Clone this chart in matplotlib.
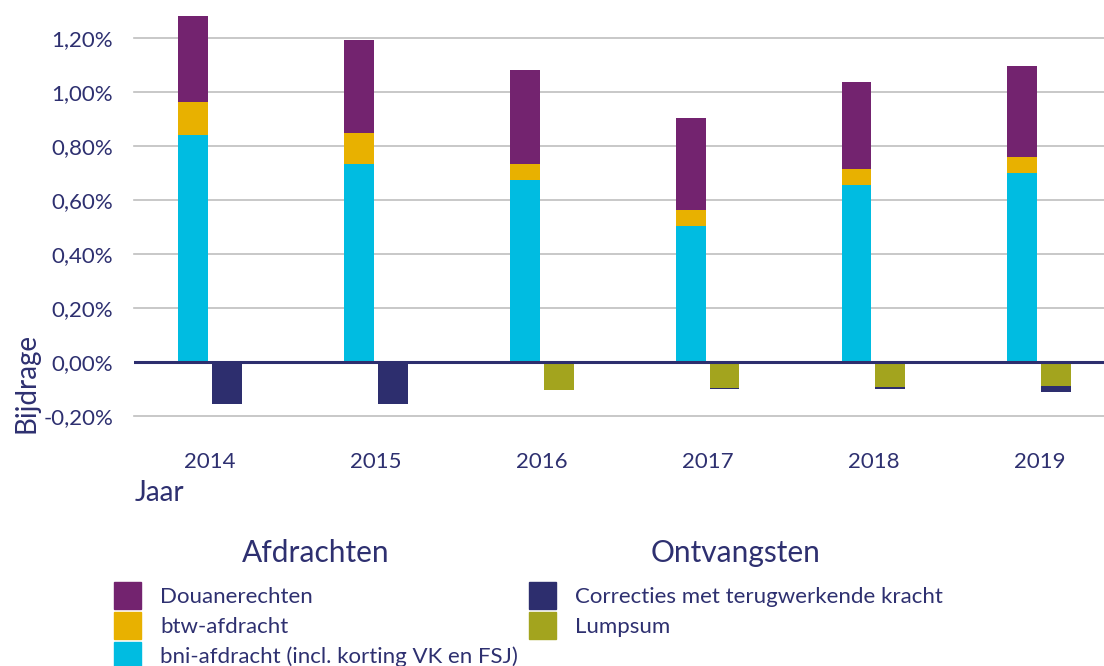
import matplotlib
matplotlib.use("Agg")
import matplotlib.pyplot as plt
import numpy as np
from matplotlib.patches import Patch

years = ["2014", "2015", "2016", "2017", "2018", "2019"]
bni = [0.841, 0.733, 0.674, 0.504, 0.656, 0.700]
btw = [0.122, 0.115, 0.059, 0.059, 0.059, 0.059]
douane = [0.318, 0.345, 0.348, 0.341, 0.322, 0.337]
lumpsum = [0.0, 0.0, -0.104, -0.097, -0.093, -0.089]
correcties = [-0.156, -0.156, 0.0, -0.004, -0.006, -0.022]
yticks = [-0.2, 0.0, 0.2, 0.4, 0.6, 0.8, 1.0, 1.2]

C_DOU = "#73236F"
C_BTW = "#E8B100"
C_BNI = "#00BCE1"
C_COR = "#2D2E6E"
C_LUM = "#A3A41E"
TXT = "#2E3070"

plt.rcParams['font.family'] = ['Lato', 'DejaVu Sans']

W, H = 1104, 666
fig = plt.figure(figsize=(W / 100, H / 100), dpi=100)
ax = fig.add_axes([134 / W, (H - 416) / H, (W - 134) / W, (416 - 16) / H])

x = np.arange(len(years))
bw = 0.18
off = 0.102
bni_a = np.array(bni); btw_a = np.array(btw); dou_a = np.array(douane)
ax.bar(x - off, bni_a, bw, color=C_BNI, zorder=2)
ax.bar(x - off, btw_a, bw, bottom=bni_a, color=C_BTW, zorder=2)
ax.bar(x - off, dou_a, bw, bottom=bni_a + btw_a, color=C_DOU, zorder=2)
lum_a = np.array(lumpsum); cor_a = np.array(correcties)
ax.bar(x + off, lum_a, bw, color=C_LUM, zorder=2)
ax.bar(x + off, cor_a, bw, bottom=lum_a, color=C_COR, zorder=2)

ax.set_xlim(-0.458, 5.39)
ax.set_ylim(-0.2, 1.28)
ax.set_yticks(yticks)
ax.set_yticklabels([("%.2f%%" % v).replace(".", ",") for v in yticks])
for v in yticks:
    if v == 0:
        ax.axhline(v, color=C_COR, lw=2.2, zorder=3)
    else:
        ax.axhline(v, color="#BFBFBF", lw=1.2, zorder=1, clip_on=False)
ax.set_xticks(x)
ax.set_xticklabels(years)
ax.tick_params(axis='both', length=0, labelsize=16, colors=TXT)
ax.tick_params(axis='x', pad=26)
ax.tick_params(axis='y', pad=15)
for s in ax.spines.values():
    s.set_visible(False)

fig.text(159 / W, 1 - 493 / H, "Jaar", fontsize=20, color=TXT, ha='center', va='center')
fig.text(27 / W, 1 - 383 / H, "Bijdrage", fontsize=20, color=TXT, ha='center', va='center', rotation=90)

lk = dict(frameon=False, fontsize=16, title_fontsize=21.5, handlelength=1.22,
          handleheight=1.49, labelspacing=0.14, handletextpad=0.85, borderpad=0,
          borderaxespad=0, labelcolor=TXT, loc='upper left')
h1 = [Patch(color=C_DOU, label="Douanerechten"),
      Patch(color=C_BTW, label="btw-afdracht"),
      Patch(color=C_BNI, label="bni-afdracht (incl. korting VK en FSJ)")]
h2 = [Patch(color=C_COR, label="Correcties met terugwerkende kracht"),
      Patch(color=C_LUM, label="Lumpsum")]
l1 = fig.legend(handles=h1, title="Afdrachten", bbox_to_anchor=(114 / W, 1 - 539 / H), **lk)
l2 = fig.legend(handles=h2, title="Ontvangsten", bbox_to_anchor=(529 / W, 1 - 539 / H), **lk)
for lg in (l1, l2):
    lg.get_title().set_color(TXT)
    lg._legend_box.sep = 11

fig.savefig("out.png", dpi=100)
